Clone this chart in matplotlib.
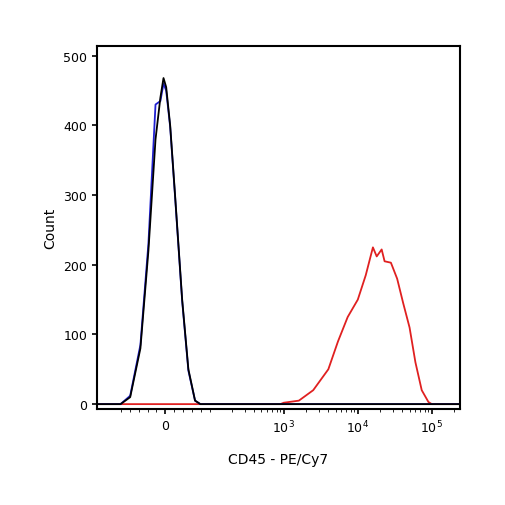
import matplotlib
matplotlib.use("Agg")
import matplotlib.pyplot as plt

neg_x = [-210, -101, -79, -56, -38, -22, -11, -4, 2, 11, 22, 38, 52, 67, 79, 240000]
black_y = [0, 0, 10, 80, 220, 380, 440, 468, 455, 400, 300, 150, 50, 5, 0, 0]
blue_y = [0, 0, 12, 85, 230, 430, 435, 460, 450, 398, 298, 148, 48, 5, 0, 0]

red_x = [-210, 900, 1000, 1600, 2500, 4000, 5400, 7300, 10000, 12800, 16000, 18000, 21000,
         23000, 28000, 34000, 41000, 50000, 60000, 73000, 90000, 100000, 240000]
red_y = [0, 0, 2, 5, 20, 50, 90, 125, 150, 185, 225, 212, 222, 205, 203, 180, 145, 110,
         60, 20, 3, 0, 0]

fig = plt.figure(figsize=(5.06, 5.06), dpi=100)
ax = fig.add_axes([97/506, 1-410/506, 363/506, 363/506])
ax.set_xscale('symlog', linthresh=100, linscale=0.54)
ax.plot(red_x, red_y, color='#e02020', lw=1.3)
ax.plot(neg_x, blue_y, color='#2020d0', lw=1.3)
ax.plot(neg_x, black_y, color='black', lw=1.3)
ax.set_xlim(-210, 240000)
ax.set_ylim(-7, 514)
ax.set_yticks([0, 100, 200, 300, 400, 500])
ax.set_xticks([0, 1000, 10000, 100000])
ax.set_xticklabels(['0', '$10^3$', '$10^4$', '$10^5$'])
minor = list(range(-100, 101, 20)) + [200, 300, 400, 500, 600, 700, 800, 900] + \
        [i * 1000 for i in range(2, 10)] + [i * 10000 for i in range(2, 10)] + [200000]
ax.set_xticks(minor, minor=True)
for s in ax.spines.values():
    s.set_linewidth(1.5)
ax.tick_params(labelsize=9, direction='out', width=1.2)
ax.set_xlabel('CD45 - PE/Cy7', fontsize=10, labelpad=12)
ax.set_ylabel('Count', fontsize=10)
fig.savefig('out.png', dpi=100)
